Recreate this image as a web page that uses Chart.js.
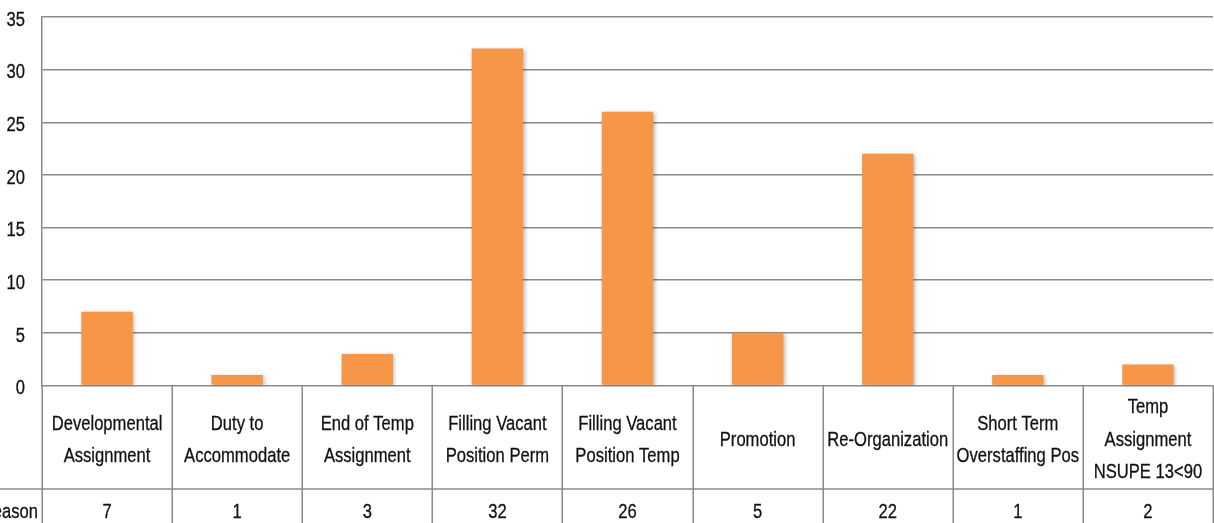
<!DOCTYPE html>
<html>
<head>
<meta charset="utf-8">
<script src="https://cdn.jsdelivr.net/npm/chart.js@4/dist/chart.umd.min.js"></script>
<style>
  html, body { margin: 0; padding: 0; background: #fff; }
  canvas { display: block; }
</style>
</head>
<body>
<canvas id="c" width="1214" height="523"></canvas>
<script>
// Reasons for personnel actions and their counts
const categories = [
  ["Developmental", "Assignment"],
  ["Duty to", "Accommodate"],
  ["End of Temp", "Assignment"],
  ["Filling Vacant", "Position Perm"],
  ["Filling Vacant", "Position Temp"],
  ["Promotion"],
  ["Re-Organization"],
  ["Short Term", "Overstaffing Pos"],
  ["Temp", "Assignment", "NSUPE 13<90"]
];
const seriesName = "Reason";
const counts = [7, 1, 3, 32, 26, 5, 22, 1, 2];
const yTicks = { min: 0, max: 35, step: 5 };

const FONT = '"Liberation Sans", Arial, sans-serif';
const FONT_SIZE = 20.5;
const SQUEEZE = 0.81;   // narrow the face horizontally
const GRID = '#8a8a8a';
const INK = '#111';

// Draw text with a horizontally condensed face
function narrowText(ctx, text, x, y, align) {
  ctx.save();
  ctx.translate(x, y);
  ctx.scale(SQUEEZE, 1);
  ctx.textAlign = align;
  ctx.textBaseline = 'middle';
  ctx.fillStyle = INK;
  ctx.strokeStyle = INK;
  ctx.lineWidth = 0.3;
  ctx.fillText(text, 0, 0);
  ctx.strokeText(text, 0, 0);
  ctx.restore();
}

// Soft drop shadow under the columns
const shadowPlugin = {
  id: 'barShadow',
  beforeDatasetsDraw(chart) {
    const ctx = chart.ctx;
    ctx.save();
    ctx.shadowColor = 'rgba(0,0,0,0.28)';
    ctx.shadowBlur = 4;
    ctx.shadowOffsetX = 1.5;
    ctx.shadowOffsetY = 1.5;
  },
  afterDatasetsDraw(chart) {
    chart.ctx.restore();
  }
};

// Value labels of the y scale, in the condensed face
const yLabelPlugin = {
  id: 'yLabels',
  afterDraw(chart) {
    const ctx = chart.ctx;
    const y = chart.scales.y;
    ctx.save();
    ctx.font = FONT_SIZE + 'px ' + FONT;
    y.ticks.forEach(t => {
      narrowText(ctx, String(t.value), chart.chartArea.left - 17, y.getPixelForValue(t.value) + 3, 'right');
    });
    ctx.restore();
  }
};

// Data table under the plot: category names and the series row
const tablePlugin = {
  id: 'dataTable',
  afterDraw(chart) {
    const ctx = chart.ctx;
    const x = chart.scales.x;
    const area = chart.chartArea;
    const n = categories.length;
    const step = x.getPixelForValue(1) - x.getPixelForValue(0);
    const top = area.bottom;
    const rowSplit = top + 103.5;
    const bottom = chart.height + 2;

    ctx.save();
    ctx.strokeStyle = GRID;
    ctx.lineWidth = 1.5;

    // vertical cell borders
    for (let i = 0; i <= n; i++) {
      const bx = Math.round(x.getPixelForValue(0) - step / 2 + i * step) + 0.25;
      ctx.beginPath();
      ctx.moveTo(bx, top);
      ctx.lineTo(bx, bottom);
      ctx.stroke();
    }
    // row separator, extends under the row header
    ctx.beginPath();
    ctx.moveTo(0, rowSplit);
    ctx.lineTo(area.right, rowSplit);
    ctx.stroke();

    ctx.font = FONT_SIZE + 'px ' + FONT;
    const lh = 32.5;
    const labelMid = (top + rowSplit) / 2 + 3;
    categories.forEach((lines, i) => {
      const cx = x.getPixelForValue(i);
      const y0 = labelMid - (lines.length - 1) * lh / 2;
      lines.forEach((t, k) => narrowText(ctx, t, cx, y0 + k * lh, 'center'));
    });

    const valueMid = rowSplit + 23;
    counts.forEach((v, i) => {
      narrowText(ctx, String(v), x.getPixelForValue(i), valueMid, 'center');
    });

    narrowText(ctx, seriesName, area.left - 4, valueMid, 'right');
    ctx.restore();
  }
};

new Chart(document.getElementById('c'), {
  type: 'bar',
  data: {
    labels: categories.map(l => l.join(' ')),
    datasets: [{
      label: seriesName,
      data: counts,
      backgroundColor: '#F79646',
      borderWidth: 0,
      categoryPercentage: 1,
      barPercentage: 0.395
    }]
  },
  options: {
    responsive: false,
    animation: false,
    devicePixelRatio: 1,
    layout: { padding: { top: 17, bottom: 137.5, left: 0, right: 1 } },
    plugins: {
      legend: { display: false },
      tooltip: { enabled: false }
    },
    scales: {
      x: { display: false },
      y: {
        min: yTicks.min,
        max: yTicks.max,
        afterFit(scale) { scale.width = 42; },
        ticks: {
          stepSize: yTicks.step,
          display: false
        },
        grid: {
          color: GRID,
          lineWidth: 1.5,
          drawTicks: false,
          tickLength: 0
        },
        border: { display: true, color: GRID, width: 1.5 }
      }
    }
  },
  plugins: [shadowPlugin, yLabelPlugin, tablePlugin]
});
</script>
</body>
</html>
